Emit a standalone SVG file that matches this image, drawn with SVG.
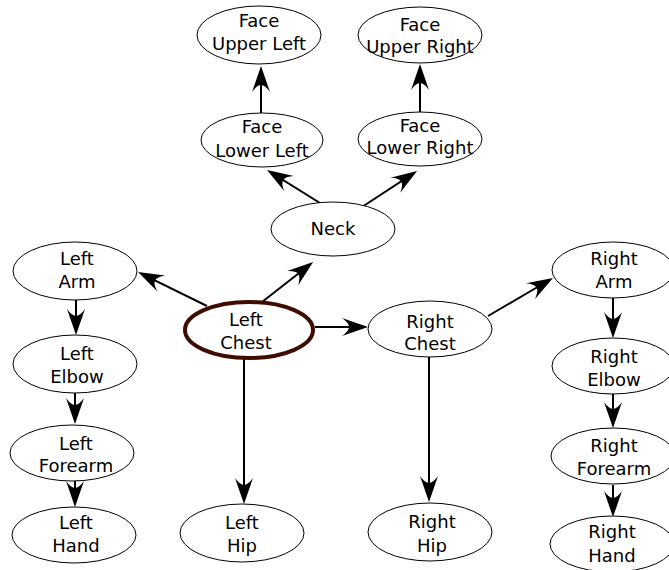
<svg xmlns="http://www.w3.org/2000/svg" width="669" height="570" viewBox="0 0 669 570">
<style>
.n ellipse{fill:#fff;stroke:#000;stroke-width:1}
.n text{font-family:"DejaVu Sans",sans-serif;font-size:18px;text-anchor:middle;fill:#000}
#edges line{stroke:#000;stroke-width:2;marker-end:url(#ah)}
</style>
<defs>
<marker id="ah" markerUnits="userSpaceOnUse" viewBox="0 0 26 20" markerWidth="26" markerHeight="20" refX="22" refY="10" orient="auto">
<path d="M26,10 L0,1 Q7,6 7,10 Q7,14 0,19 Z" fill="#000"/>
</marker>
</defs>
<g id="edges">
<line x1="262" y1="302" x2="310" y2="264.5"/>
<line x1="207" y1="306" x2="141.6" y2="273.8"/>
<line x1="315" y1="327" x2="364" y2="327"/>
<line x1="244" y1="358" x2="244" y2="500"/>
<line x1="429" y1="357" x2="429" y2="498"/>
<line x1="488" y1="316" x2="549.5" y2="280"/>
<line x1="613" y1="298" x2="613" y2="334"/>
<line x1="613" y1="394" x2="613" y2="424"/>
<line x1="613" y1="485" x2="613" y2="513"/>
<line x1="76" y1="300" x2="76" y2="331"/>
<line x1="75" y1="393" x2="75" y2="420"/>
<line x1="75" y1="481" x2="75" y2="503"/>
<line x1="320" y1="203" x2="270.4" y2="172.1"/>
<line x1="362" y1="207" x2="413.7" y2="173.2"/>
<line x1="261" y1="113" x2="261" y2="70"/>
<line x1="420" y1="112" x2="420" y2="68"/>
</g>
<g id="face_upper_left" class="n"><ellipse cx="259" cy="35" rx="62" ry="29"/><text x="259" y="27">Face</text><text x="259" y="50">Upper Left</text></g>
<g id="face_upper_right" class="n"><ellipse cx="420" cy="35" rx="62" ry="28"/><text x="420" y="31">Face</text><text x="420" y="53">Upper Right</text></g>
<g id="face_lower_left" class="n"><ellipse cx="262" cy="140" rx="61" ry="27"/><text x="262" y="133">Face</text><text x="262" y="157">Lower Left</text></g>
<g id="face_lower_right" class="n"><ellipse cx="420" cy="139" rx="62" ry="27"/><text x="420" y="132">Face</text><text x="420" y="154">Lower Right</text></g>
<g id="neck" class="n"><ellipse cx="333" cy="229" rx="62" ry="27"/><text x="333" y="235">Neck</text></g>
<g id="left_arm" class="n"><ellipse cx="75" cy="271" rx="62" ry="29"/><text x="77" y="265">Left</text><text x="77" y="288">Arm</text></g>
<g id="left_chest" class="n"><ellipse cx="249" cy="330" rx="64" ry="28" style="stroke:#3f0c02;stroke-width:4"/><text x="246" y="326">Left</text><text x="246" y="349">Chest</text></g>
<g id="right_chest" class="n"><ellipse cx="430" cy="329" rx="62" ry="28"/><text x="430" y="328">Right</text><text x="430" y="350">Chest</text></g>
<g id="right_arm" class="n"><ellipse cx="613" cy="270" rx="61" ry="28"/><text x="614" y="265">Right</text><text x="614" y="288">Arm</text></g>
<g id="left_elbow" class="n"><ellipse cx="75" cy="364" rx="62" ry="29"/><text x="77" y="360">Left</text><text x="77" y="383">Elbow</text></g>
<g id="right_elbow" class="n"><ellipse cx="613" cy="366" rx="61" ry="28"/><text x="614" y="363">Right</text><text x="614" y="386">Elbow</text></g>
<g id="left_forearm" class="n"><ellipse cx="72" cy="453" rx="62" ry="28"/><text x="76" y="450">Left</text><text x="76" y="472">Forearm</text></g>
<g id="right_forearm" class="n"><ellipse cx="613" cy="456" rx="62" ry="28"/><text x="614" y="452">Right</text><text x="614" y="475">Forearm</text></g>
<g id="left_hand" class="n"><ellipse cx="74" cy="535" rx="62" ry="28"/><text x="76" y="529">Left</text><text x="76" y="552">Hand</text></g>
<g id="left_hip" class="n"><ellipse cx="242" cy="533" rx="62" ry="29"/><text x="242" y="529">Left</text><text x="242" y="552">Hip</text></g>
<g id="right_hip" class="n"><ellipse cx="430" cy="532" rx="62" ry="29"/><text x="432" y="528">Right</text><text x="432" y="552">Hip</text></g>
<g id="right_hand" class="n"><ellipse cx="612" cy="544" rx="62" ry="28"/><text x="612" y="538">Right</text><text x="612" y="562">Hand</text></g>
</svg>
